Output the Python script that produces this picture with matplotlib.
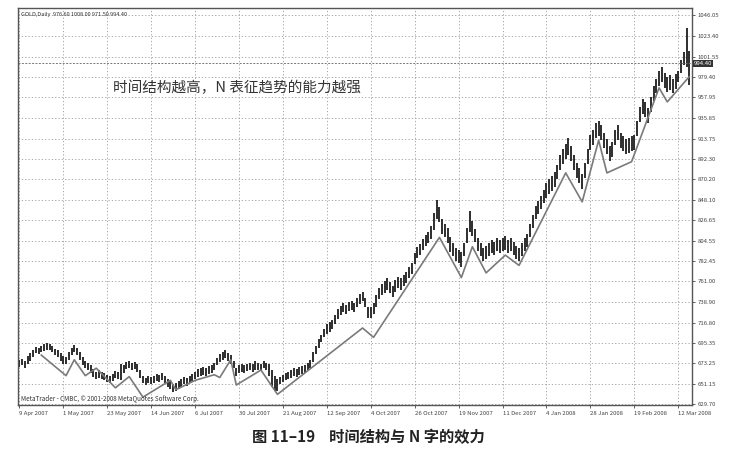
import matplotlib
matplotlib.use("Agg")
import matplotlib.pyplot as plt

plt.rcParams['font.family'] = ['Noto Sans CJK SC', 'DejaVu Sans']

# daily bars, 9 Apr 2007 .. mid Mar 2008 (one row = 16 bars = one date label)
highs = [
    677, 678, 676, 681, 684, 688, 691, 690, 692, 694, 695, 694, 692, 689, 687, 684,
    681, 680, 685, 690, 693, 690, 685, 680, 676, 674, 671, 667, 664, 666, 664, 663,
    661, 660, 662, 665, 664, 672, 671, 675, 676, 674, 675, 672, 666, 660, 658, 660,
    659, 660, 662, 661, 663, 660, 656, 654, 651, 652, 654, 656, 659, 657, 660, 662,
    664, 667, 668, 669, 668, 670, 671, 674, 679, 683, 685, 688, 684, 682, 676, 668,
    671, 672, 671, 673, 674, 672, 676, 674, 673, 676, 674, 672, 666, 660, 656, 659,
    661, 663, 664, 666, 668, 667, 669, 670, 671, 674, 677, 685, 692, 699, 704, 710,
    715, 717, 720, 725, 731, 735, 738, 736, 739, 740, 738, 743, 747, 750, 743, 734,
    734, 738, 746, 754, 758, 761, 764, 760, 756, 762, 766, 764, 768, 771, 776, 781,
    791, 798, 801, 806, 811, 814, 820, 834, 848, 840, 828, 822, 818, 808, 802, 797,
    795, 792, 802, 818, 836, 826, 817, 807, 802, 797, 799, 802, 805, 803, 807, 805,
    807, 809, 805, 807, 803, 799, 797, 802, 807, 812, 822, 832, 842, 847, 852, 859,
    866, 870, 874, 878, 886, 896, 903, 908, 914, 906, 896, 888, 882, 876, 888, 903,
    918, 923, 930, 933, 928, 920, 913, 906, 910, 923, 928, 920, 916, 913, 914, 916,
    918, 933, 948, 956, 953, 946, 958, 970, 978, 986, 990, 984, 980, 982, 978, 983,
    986, 998, 1006, 1032, 1008,
]
lows = [
    669, 671, 668, 672, 676, 680, 684, 683, 685, 686, 688, 687, 685, 682, 680, 676,
    673, 672, 677, 682, 685, 682, 677, 671, 668, 666, 663, 659, 656, 658, 656, 655,
    653, 652, 654, 657, 656, 655, 663, 667, 668, 666, 667, 664, 658, 652, 650, 652,
    651, 652, 654, 653, 655, 652, 648, 646, 642, 644, 646, 648, 651, 649, 652, 654,
    656, 659, 660, 661, 660, 662, 663, 666, 671, 675, 677, 679, 676, 673, 668, 660,
    663, 664, 663, 665, 666, 664, 666, 666, 665, 668, 666, 660, 648, 644, 644, 651,
    653, 655, 656, 658, 660, 659, 661, 662, 663, 666, 668, 675, 683, 690, 696, 701,
    705, 707, 710, 715, 721, 725, 728, 726, 729, 730, 728, 733, 737, 740, 733, 722,
    722, 726, 734, 742, 746, 749, 752, 748, 744, 750, 754, 752, 756, 759, 764, 769,
    779, 786, 789, 794, 799, 802, 806, 816, 828, 824, 812, 808, 802, 792, 788, 783,
    781, 776, 788, 802, 814, 810, 803, 793, 788, 783, 785, 788, 791, 789, 793, 791,
    793, 795, 791, 793, 789, 785, 783, 788, 793, 798, 808, 818, 828, 833, 838, 845,
    850, 854, 858, 862, 870, 880, 887, 892, 896, 890, 880, 872, 866, 860, 872, 887,
    902, 907, 914, 917, 912, 904, 897, 890, 894, 907, 912, 904, 900, 897, 898, 900,
    902, 917, 932, 940, 937, 930, 942, 954, 962, 970, 974, 968, 964, 966, 962, 967,
    974, 984, 992, 990, 971.5,
]

# N-shaped zigzag drawn under the price (bar index, price)
zz_bars = [8, 17, 20, 24, 28, 35, 40, 45, 55, 57, 64, 71, 73, 77, 79, 88, 94,
           125, 129, 153, 161, 165, 170, 177, 182, 199, 205, 211, 214, 223,
           233, 236, 244]
zz_prices = [682, 660, 677, 660, 668, 647, 659, 637, 655, 645, 655, 661, 658,
             677, 650, 666, 640, 711, 701, 808, 765, 798, 770, 789, 778, 877,
             846, 912, 877, 889, 968, 953, 980]

date_labels = ["9 Apr 2007", "1 May 2007", "23 May 2007", "14 Jun 2007",
               "6 Jul 2007", "30 Jul 2007", "21 Aug 2007", "12 Sep 2007",
               "4 Oct 2007", "26 Oct 2007", "19 Nov 2007", "11 Dec 2007",
               "4 Jan 2008", "28 Jan 2008", "19 Feb 2008", "12 Mar 2008"]
price_ticks = [629.70, 651.15, 673.25, 695.35, 716.80, 738.90, 761.00, 782.45,
               804.55, 826.65, 848.10, 870.20, 892.30, 913.75, 935.85, 957.95,
               979.40, 1001.55, 1023.40, 1046.05]
last_price = 994.40

fig = plt.figure(figsize=(7.37, 4.53), dpi=100)
ax = fig.add_axes([18 / 737, 1 - 405 / 453, 674 / 737, 397 / 453])

idx = list(range(len(highs)))
ax.vlines(idx, lows, highs, color="#1e1e1e", lw=1.3)
ax.plot(zz_bars, zz_prices, color="#7a7a7a", lw=1.2)

ax.set_xlim(-0.5, 245)
ax.set_ylim(628.6, 1053.5)

ax.set_xticks(range(0, 16 * len(date_labels), 16))
ax.set_xticklabels(date_labels, fontsize=4.3, color="#333333", ha="left")
ax.yaxis.tick_right()
ax.set_yticks(price_ticks)
ax.set_yticklabels([f"{p:.2f}" for p in price_ticks], fontsize=4.3, color="#333333")
ax.tick_params(axis="both", length=2.5, width=0.6, pad=1.5, colors="#444444")
ax.grid(True, color="#9a9a9a", lw=0.6, ls=(0, (1.5, 2.5)))

for side in ax.spines.values():
    side.set_color("#555555")
    side.set_linewidth(1.0)

# current price line and box
ax.axhline(last_price, color="#777777", lw=0.7, ls=(0, (2, 1.5)))
ax.text(1.003, last_price, f"{last_price:.2f}", transform=ax.get_yaxis_transform(),
        fontsize=4.3, color="white", va="center", ha="left",
        bbox=dict(boxstyle="square,pad=0.15", fc="#333333", ec="none"))

ax.text(0.004, 0.99, "GOLD,Daily  976.60 1008.00 971.50 994.40",
        transform=ax.transAxes, fontsize=4, color="#333333", va="top", ha="left")
ax.text(0.004, 0.006, "MetaTrader - CMBC, © 2001-2008 MetaQuotes Software Corp.",
        transform=ax.transAxes, fontsize=4.5, color="#333333", va="bottom", ha="left")
ax.text(0.141, 0.80, "时间结构越高，N 表征趋势的能力越强",
        transform=ax.transAxes, fontsize=10.5, color="#333333", va="center", ha="left")

fig.text(0.5, 1 - 437 / 453, "图 11–19    时间结构与 N 字的效力",
         fontsize=11, fontweight="bold", color="#222222", ha="center", va="center")

fig.savefig("out.png", dpi=100, facecolor="white")
